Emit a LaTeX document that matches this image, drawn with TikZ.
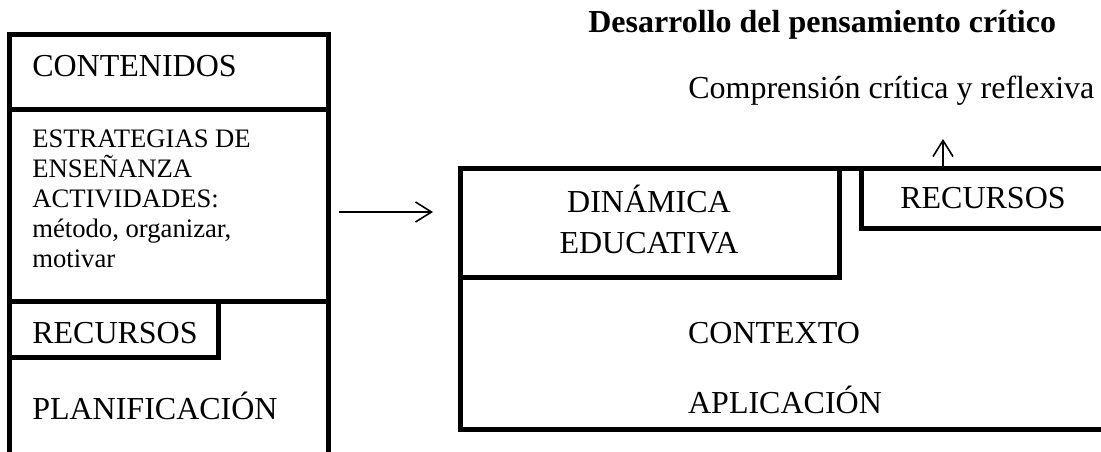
\documentclass[tikz,border=0pt]{standalone}
\usepackage{fontspec}
\setmainfont{Liberation Serif}
\usetikzlibrary{arrows.meta}

\tikzset{
  caja/.style={line width=3.6pt},
  grande/.style={font=\fontsize{24}{30.75}\selectfont, inner sep=0pt},
  chica/.style={font=\fontsize{20}{22.5}\selectfont, inner sep=0pt},
  flecha/.style={line width=1.2pt, -{Straight Barb[length=12pt,width=15pt]}}
}

\begin{document}
\begin{tikzpicture}[x=0.75pt,y=-0.75pt]
\useasboundingbox (0,0) rectangle (1101,451);
\clip (0,0) rectangle (1101,451);

% planificacion
\draw[caja] (9.5,34.5) rectangle (328.5,480);
\draw[caja] (9.5,109.5) -- (328.5,109.5);
\draw[caja] (9.5,301.5) -- (328.5,301.5);
\draw[caja] (9.5,357.5) -| (218.5,301.5);

\node[grande, anchor=base west] (contenidos) at (32,76) {CONTENIDOS};
% base = ultima linea
\node[chica, anchor=base west, align=left] (estrategias) at (32,267)
  {ESTRATEGIAS DE\\ENSEÑANZA\\ACTIVIDADES:\\método, organizar,\\motivar};
\node[grande, anchor=base west] (recursosA) at (32,343) {RECURSOS};
\node[grande, anchor=base west] (planificacion) at (32,419) {PLANIFICACIÓN};

% dinamica
\draw[caja] (460.5,168.5) rectangle (1130,429.5);
\draw[caja] (460.5,168.5) rectangle (839.5,277.5);
\draw[caja] (861.5,168.5) |- (1130,228.5);

\node[grande, anchor=base, align=center] (dinamica) at (649,253) {DINÁMICA\\EDUCATIVA};
\node[grande, anchor=base] (recursosB) at (983,208) {RECURSOS};
\node[grande, anchor=base] (contexto) at (774,343) {CONTEXTO};
\node[grande, anchor=base] (aplicacion) at (785,413) {APLICACIÓN};

\node[grande, anchor=base west, font=\fontsize{24}{28}\selectfont\bfseries] (titulo) at (588,32) {Desarrollo del pensamiento crítico};
\node[grande, anchor=base west] (comprension) at (688,98) {Comprensión crítica y reflexiva};

\coordinate (salida) at (339,212);
\coordinate (llegada) at (433,212);
\coordinate (tope) at (943,166);
\coordinate (punta) at (943,139);

\draw[flecha] (salida) -- (llegada);
\draw[flecha] (tope) -- (punta);

\end{tikzpicture}
\end{document}
